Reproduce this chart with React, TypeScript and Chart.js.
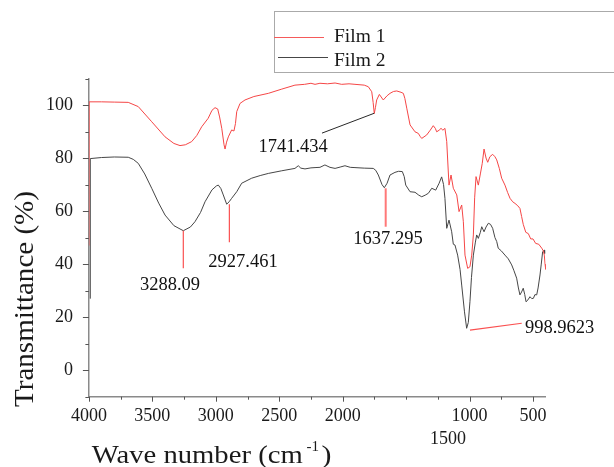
import React, { useEffect, useRef } from "react";
import { Chart, registerables } from "chart.js";

Chart.register(...registerables);

// ---------- data ----------
const film1Wn = [
  4000, 3998, 3900, 3800, 3690, 3611, 3505, 3400, 3330, 3282, 3240, 3190, 3150, 3111, 3060, 3030, 3006, 2985, 2970,
  2953, 2935, 2927, 2915, 2901, 2875, 2857, 2845, 2835, 2809, 2770, 2700, 2586, 2480, 2376, 2300, 2250, 2218, 2179,
  2120, 2060, 2008, 1950, 1903, 1830, 1798, 1771, 1760, 1751, 1742, 1732, 1711, 1680, 1650, 1627, 1600, 1574, 1540,
  1522, 1510, 1495, 1469, 1430, 1404, 1390, 1377, 1338, 1310, 1286, 1270, 1259, 1240, 1225, 1210, 1194, 1180, 1170,
  1162, 1146, 1128, 1101, 1083, 1062, 1049, 1036, 1015, 997, 983, 970, 960, 949, 931, 915, 900, 886, 870, 857, 840,
  818, 800, 786, 765, 747, 721, 700, 681, 660, 642, 620, 603, 590, 577, 557, 537, 518, 500, 479, 455, 431, 419, 411,
  405, 400,
];
const film1T = [
  47, 101.2, 101.2, 101.1, 101.0, 99.4, 93.7, 88.0, 85.5, 84.7, 85.0, 86.2, 88.5, 91.8, 95, 98, 99.0, 98.5, 95.5,
  91.2, 85, 83.4, 86, 88, 90.6, 90.2, 93, 97.5, 100.6, 101.9, 103.2, 104.4, 106, 107.5, 107.8, 108.2, 107.8, 108.2,
  108, 108.3, 107.8, 108, 107.8, 107.5, 106.9, 105, 101, 96.8, 99, 101.9, 104, 101.9, 103.5, 104.4, 105.1, 105.3, 104.8,
  104.4, 102.5, 98.8, 92.5, 89.9, 89.3, 88.2, 87.4, 88.7, 90.5, 92.2, 91.2, 89.9, 90.5, 91.2, 90.5, 91.2, 86.2, 77,
  69.8, 73.6, 68.6, 66.1, 59.8, 62.3, 56, 43.4, 38.4, 39, 43.4, 51, 65, 73, 69.8, 74, 78, 83.4, 80, 78.4, 80.5,
  81.4, 80.5, 79.3, 76, 72.4, 69.8, 67, 64.8, 63.5, 62.9, 62, 61, 58, 55, 52, 51.5, 49.5, 49.5, 47.8, 47.5, 46, 45, 43.4,
  40, 38,
];
const film2Wn = [
  3990, 3989, 3900, 3800, 3690, 3650, 3611, 3560, 3505, 3450, 3400, 3330, 3256, 3200, 3164, 3120, 3085, 3030, 2995,
  2980, 2960, 2941, 2914, 2895, 2875, 2835, 2796, 2717, 2650, 2586, 2480, 2376, 2350, 2330, 2297, 2250, 2218, 2179,
  2140, 2100, 2060, 2020, 1982, 1940, 1903, 1830, 1759, 1740, 1719, 1690, 1672, 1650, 1627, 1588, 1560, 1530, 1515,
  1503, 1469, 1430, 1400, 1377, 1350, 1325, 1298, 1280, 1267, 1240, 1220, 1205, 1194, 1180, 1162, 1141, 1128, 1115,
  1094, 1075, 1062, 1040, 1023, 1010, 997, 985, 970, 955, 944, 931, 915, 904, 886, 870, 852, 835, 818, 800, 786, 774,
  750, 721, 695, 668, 650, 629, 615, 603, 590, 577, 565, 555, 540, 524, 510, 497, 485, 471, 460, 445, 435, 424, 411,
  408,
];
const film2T = [
  27, 79.8, 80.2, 80.4, 80.3, 79.5, 78, 74, 68.6, 63, 58.5, 54.5, 52.6, 54, 56, 59.5, 63.5, 68, 69.5,
  69.8, 68.5, 66.1, 62.6, 63.5, 64.8, 67.3, 70.5, 72.4, 73.4, 74.2, 75.2, 76.1, 77.1, 76.2, 75.9, 76.3, 76.4, 76.5,
  77.4, 76.5, 76.1, 76.6, 77.1, 76.5, 76.4, 76.2, 76.1, 75.4, 73.6, 70, 68.8, 70.5, 73.6, 74.6, 75.0, 74.9, 73,
  69.8, 67.3, 67.1, 66, 65.4, 66, 66.7, 68.6, 68.2, 67.9, 70.5, 72.9, 70, 64.8, 53.5, 56.6, 52.2, 47.5, 47.2,
  43.4, 38, 32.1, 22, 15.8, 18, 25.8, 35, 43.4, 48, 51, 49.7, 52, 54.1, 52.2, 54, 55.4, 55, 53.5, 50, 48.5, 46,
  45, 43.4, 42, 39.7, 37.5, 34.7, 31, 28.4, 29.5, 30.9, 28.5, 25.8, 26.5, 27.7, 27, 27.1, 28.5, 28.4, 31, 35.9, 40, 44.7, 45.3,
  44,
];

const seriesNames = ["Film 1", "Film 2"];
const xTicks = [500, 750, 1000, 1250, 1500, 1750, 2000, 2250, 2500, 2750, 3000, 3250, 3500, 3750, 4000];
const xLabelValues = [4000, 3500, 3000, 2500, 2000, 1000, 500];
const yTicks = [-10, 0, 10, 20, 30, 40, 50, 60, 70, 80, 90, 100, 110];
const yLabelValues = [0, 20, 40, 60, 80, 100];
const strayTickLabel = "1500";
const xTitleMain = "Wave number (cm";
const xTitleSup = "-1";
const yTitle = "Transmittance (%)";

// peak annotations: text, pointer start (x1,y1) -> end (x2,y2), label anchor (tx,ty), all in data units
const peakNotes = [
  { text: "3288.09", x1: 3256, y1: 52.6, x2: 3256, y2: 38.4, tx: 3361, ty: 32.1, kind: "red" },
  { text: "2927.461", x1: 2893, y1: 62.6, x2: 2893, y2: 48.2, tx: 2786, ty: 40.7, kind: "red" },
  { text: "1637.295", x1: 1661, y1: 68.6, x2: 1661, y2: 54.1, tx: 1643, ty: 49.4, kind: "pink" },
  { text: "1741.434", x1: 1751, y1: 96.9, x2: 2163, y2: 89.4, tx: 2391, ty: 84.3, kind: "black" },
  { text: "998.9623", x1: 997, y1: 15.1, x2: 589, y2: 17.7, tx: 290, ty: 15.8, kind: "red" },
];

const RED = "rgb(245,70,70)";
const GREY = "rgb(70,70,70)";
const SERIF = "'Liberation Serif', 'Times New Roman', serif";

const overlayPlugin = {
  id: "overlay",
  afterDatasetsDraw(chart: any) {
    const { ctx, scales } = chart;
    const x = scales.x;
    const y = scales.y;
    ctx.save();
    for (const n of peakNotes) {
      ctx.beginPath();
      if (n.kind === "red") {
        ctx.strokeStyle = "rgb(250,80,80)";
        ctx.lineWidth = 1.2;
      } else if (n.kind === "pink") {
        ctx.strokeStyle = "rgb(255,120,120)";
        ctx.lineWidth = 2;
      } else {
        ctx.strokeStyle = "rgb(40,40,40)";
        ctx.lineWidth = 1;
      }
      ctx.moveTo(x.getPixelForValue(n.x1), y.getPixelForValue(n.y1));
      ctx.lineTo(x.getPixelForValue(n.x2), y.getPixelForValue(n.y2));
      ctx.stroke();
      ctx.fillStyle = "#111";
      ctx.font = `18.5px ${SERIF}`;
      ctx.textAlign = "center";
      ctx.textBaseline = "middle";
      ctx.fillText(n.text, x.getPixelForValue(n.tx), y.getPixelForValue(n.ty));
    }
    ctx.restore();
  },
  afterDraw(chart: any) {
    const { ctx, scales, chartArea } = chart;
    const x = scales.x;
    const y = scales.y;
    ctx.save();
    // tick marks
    ctx.strokeStyle = "#555";
    ctx.lineWidth = 1;
    for (const v of xTicks) {
      const px = Math.round(x.getPixelForValue(v)) + 0.5;
      const len = v % 500 === 0 && v !== 1500 ? 5 : 3;
      ctx.beginPath();
      ctx.moveTo(px, chartArea.bottom);
      ctx.lineTo(px, chartArea.bottom + len);
      ctx.stroke();
    }
    for (const v of yTicks) {
      const py = Math.round(y.getPixelForValue(v)) + 0.5;
      const len = v % 20 === 0 ? 6 : 3.5;
      ctx.beginPath();
      ctx.moveTo(chartArea.left - len, py);
      ctx.lineTo(chartArea.left, py);
      ctx.stroke();
    }
    // stray "1500" label
    ctx.fillStyle = "#1a1a1a";
    ctx.font = `18px ${SERIF}`;
    ctx.textAlign = "center";
    ctx.textBaseline = "middle";
    ctx.fillText(strayTickLabel, 448, 439);

    // x title
    ctx.textAlign = "left";
    ctx.textBaseline = "alphabetic";
    ctx.font = `26px ${SERIF}`;
    const mainW = ctx.measureText(xTitleMain).width;
    const sx = 211 / mainW;
    ctx.save();
    ctx.translate(91.7, 462.7);
    ctx.scale(sx, 1);
    ctx.fillText(xTitleMain, 0, 0);
    ctx.restore();
    ctx.font = `15px ${SERIF}`;
    ctx.fillText(xTitleSup, 306.5, 451);
    ctx.font = `26px ${SERIF}`;
    ctx.save();
    ctx.translate(321.5, 462.7);
    ctx.scale(1.15, 1);
    ctx.fillText(")", 0, 0);
    ctx.restore();

    // y title
    ctx.font = `28px ${SERIF}`;
    const yW = ctx.measureText(yTitle).width;
    ctx.save();
    ctx.translate(33, 407);
    ctx.rotate(-Math.PI / 2);
    ctx.scale(216 / yW, 1);
    ctx.fillText(yTitle, 0, 0);
    ctx.restore();

    // legend
    ctx.strokeStyle = "#aaa";
    ctx.lineWidth = 1;
    ctx.strokeRect(274.5, 11.5, 400, 61);
    ctx.lineWidth = 1;
    ctx.strokeStyle = "rgb(245,90,90)";
    ctx.beginPath();
    ctx.moveTo(274, 37.5);
    ctx.lineTo(324, 37.5);
    ctx.stroke();
    ctx.strokeStyle = GREY;
    ctx.beginPath();
    ctx.moveTo(278, 57.5);
    ctx.lineTo(328, 57.5);
    ctx.stroke();
    ctx.fillStyle = "#1a1a1a";
    ctx.font = `19.5px ${SERIF}`;
    ctx.textBaseline = "middle";
    ctx.fillText(seriesNames[0], 334, 36.5);
    ctx.fillText(seriesNames[1], 334, 60.5);
    ctx.restore();
  },
};

export default function App() {
  const ref = useRef<HTMLCanvasElement | null>(null);
  useEffect(() => {
    if (!ref.current) return;
    const chart = new Chart(ref.current, {
      type: "line",
      data: {
        datasets: [
          {
            label: seriesNames[0],
            data: film1Wn.map((v, i) => ({ x: v, y: film1T[i] })),
            borderColor: RED,
            borderWidth: 1,
            pointRadius: 0,
            tension: 0,
            fill: false,
          },
          {
            label: seriesNames[1],
            data: film2Wn.map((v, i) => ({ x: v, y: film2T[i] })),
            borderColor: GREY,
            borderWidth: 1,
            pointRadius: 0,
            tension: 0,
            fill: false,
          },
        ],
      },
      options: {
        animation: false,
        responsive: false,
        devicePixelRatio: 1,
        layout: { padding: { left: 0, right: 68.3, top: 78.5, bottom: 0 } },
        plugins: { legend: { display: false }, tooltip: { enabled: false }, title: { display: false } },
        scales: {
          x: {
            type: "linear",
            reverse: true,
            min: 400,
            max: 4000,
            afterBuildTicks: (s: any) => {
              s.ticks = xTicks.map((v) => ({ value: v }));
            },
            afterFit: (s: any) => {
              s.height = 70.3;
            },
            grid: { display: false, drawTicks: false },
            border: { display: true, color: "#8a8a8a", width: 1.5 },
            ticks: {
              autoSkip: false,
              maxRotation: 0,
              padding: 9,
              color: "#1a1a1a",
              font: { family: SERIF, size: 18 },
              callback: (v: any) => (xLabelValues.includes(Number(v)) ? String(v) : ""),
            },
          },
          y: {
            type: "linear",
            min: -10,
            max: 110,
            afterBuildTicks: (s: any) => {
              s.ticks = yTicks.map((v) => ({ value: v }));
            },
            afterFit: (s: any) => {
              s.width = 88.9;
            },
            grid: { display: false, drawTicks: false },
            border: { display: true, color: "#8a8a8a", width: 1.5 },
            ticks: {
              autoSkip: false,
              padding: 16,
              color: "#1a1a1a",
              font: { family: SERIF, size: 18 },
              callback: (v: any) => (yLabelValues.includes(Number(v)) ? String(v) : ""),
            },
          },
        },
      },
      plugins: [overlayPlugin],
    } as any);
    return () => chart.destroy();
  }, []);
  return (
    <div style={{ position: "fixed", left: 0, top: 0, width: 614, height: 467, background: "#fff" }}>
      <canvas ref={ref} width={614} height={467} style={{ width: 614, height: 467, display: "block" }} />
    </div>
  );
}
